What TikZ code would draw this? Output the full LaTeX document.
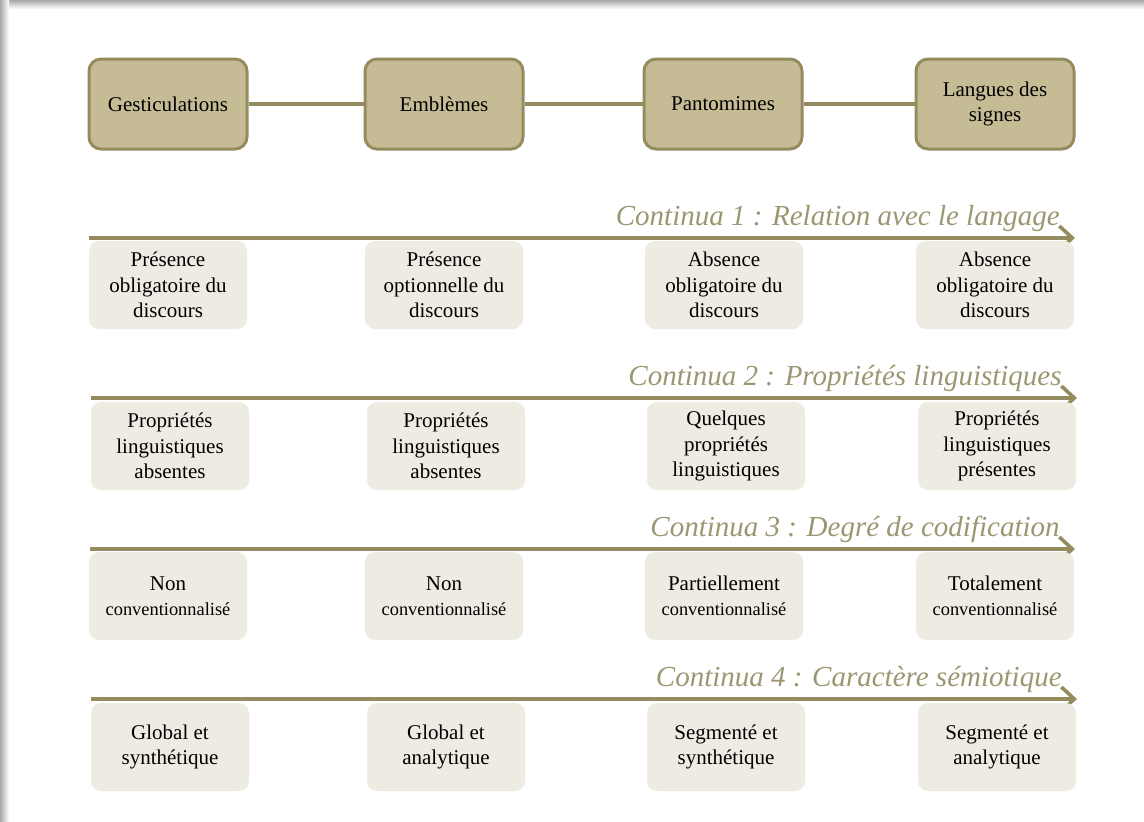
\documentclass[tikz,border=0pt]{standalone}
\usepackage{fontspec}
\setmainfont{Liberation Serif}
\usetikzlibrary{arrows.meta}
\definecolor{cTopFill}{HTML}{C5BC95}
\definecolor{cTopDraw}{HTML}{958C5E}
\definecolor{cLine}{HTML}{948C5E}
\definecolor{cSoft}{HTML}{EEEBE2}
\definecolor{cLabel}{HTML}{9C9772}
\definecolor{cShadow}{HTML}{A8A8A8}
\begin{document}
\begin{tikzpicture}[x=0.5pt,y=-0.5pt,
  topbox/.style={draw=cTopDraw, line width=1.5pt, fill=cTopFill, rounded corners=6pt,
    minimum width=79pt, minimum height=45pt, inner sep=0pt, align=center,
    font=\fontsize{10.5}{12.5}\selectfont},
  softbox/.style={fill=cSoft, rounded corners=5pt, minimum width=79pt, minimum height=44pt,
    inner sep=0pt, align=center, font=\fontsize{10.5}{12.7}\selectfont},
  conn/.style={draw=cLine, line width=1.7pt},
  axis/.style={draw=cLine, line width=1.8pt, -{Straight Barb[length=6.5pt,width=12pt,line width=1.8pt]}},
  lbl/.style={anchor=base east, text=cLabel, inner sep=0pt,
    font=\fontsize{14.5}{16}\selectfont\itshape}]
\useasboundingbox (0,0) rectangle (1144,821);
\fill[white] (0,0) rectangle (1144,821);
\shade[top color=cShadow, bottom color=white] (0,0) rectangle (1144,9);
\shade[left color=cShadow, right color=white] (0,0) rectangle (9,821);

% top row
\node[topbox] (g) at (168,104) {Gesticulations};
\node[topbox] (e) at (444,104) {Emblèmes};
\node[topbox] (p) at (723,104) {Pantomimes};
\node[topbox] (l) at (995,104) {Langues des\\signes};
\draw[conn] (g) -- (e);
\draw[conn] (e) -- (p);
\draw[conn] (p) -- (l);

% continua 1
\coordinate (a1s) at (89,238);
\coordinate (a1e) at (1075,238);
\draw[axis] (a1s) -- (a1e);
\node[lbl] (t1) at (1060,225) {Continua 1 : Relation avec le langage};
\node[softbox] (r1a) at (168,285) {Présence\\obligatoire du\\discours};
\node[softbox] (r1b) at (444,285) {Présence\\optionnelle du\\discours};
\node[softbox] (r1c) at (724,285) {Absence\\obligatoire du\\discours};
\node[softbox] (r1d) at (995,285) {Absence\\obligatoire du\\discours};

% continua 2
\coordinate (a2s) at (91,398);
\coordinate (a2e) at (1077,398);
\draw[axis] (a2s) -- (a2e);
\node[lbl] (t2) at (1062,385) {Continua 2 : Propriétés linguistiques};
\node[softbox] (r2a) at (170,446) {Propriétés\\linguistiques\\absentes};
\node[softbox] (r2b) at (446,446) {Propriétés\\linguistiques\\absentes};
\node[softbox] (r2c) at (726,446) {Quelques\\propriétés\\linguistiques};
\node[softbox] (r2d) at (997,446) {Propriétés\\linguistiques\\présentes};

% continua 3
\coordinate (a3s) at (90,549);
\coordinate (a3e) at (1075,549);
\draw[axis] (a3s) -- (a3e);
\node[lbl] (t3) at (1060,536) {Continua 3 : Degré de codification};
\node[softbox] (r3a) at (168,596) {Non\\{\fontsize{9.2}{12}\selectfont conventionnalisé}};
\node[softbox] (r3b) at (444,596) {Non\\{\fontsize{9.2}{12}\selectfont conventionnalisé}};
\node[softbox] (r3c) at (724,596) {Partiellement\\{\fontsize{9.2}{12}\selectfont conventionnalisé}};
\node[softbox] (r3d) at (995,596) {Totalement\\{\fontsize{9.2}{12}\selectfont conventionnalisé}};

% continua 4
\coordinate (a4s) at (91,699);
\coordinate (a4e) at (1077,699);
\draw[axis] (a4s) -- (a4e);
\node[lbl] (t4) at (1062,686) {Continua 4 : Caractère sémiotique};
\node[softbox] (r4a) at (170,747) {Global et\\synthétique};
\node[softbox] (r4b) at (446,747) {Global et\\analytique};
\node[softbox] (r4c) at (726,747) {Segmenté et\\synthétique};
\node[softbox] (r4d) at (997,747) {Segmenté et\\analytique};
\end{tikzpicture}
\end{document}
